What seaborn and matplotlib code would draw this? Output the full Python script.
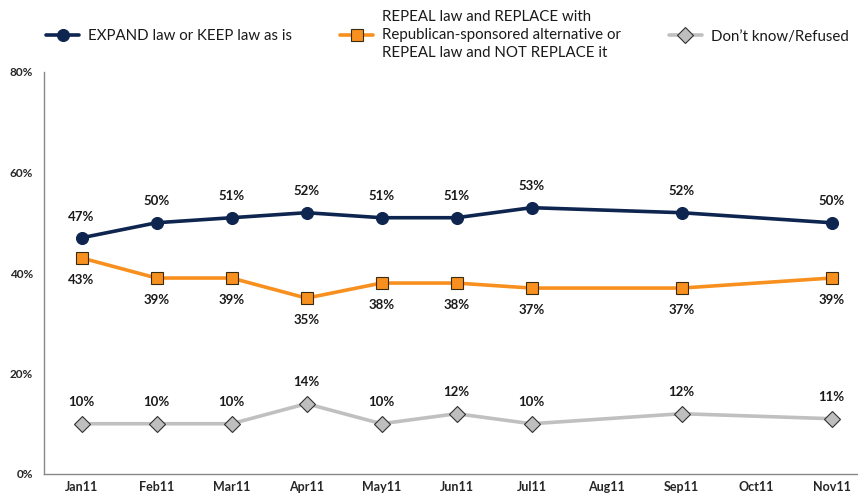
import matplotlib
matplotlib.use("Agg")
import matplotlib.pyplot as plt
from matplotlib.lines import Line2D
from matplotlib.ticker import FixedLocator
import seaborn as sns
import numpy as np
import pandas as pd

# Données
months = ["Jan11", "Feb11", "Mar11", "Apr11", "May11", "Jun11",
          "Jul11", "Aug11", "Sep11", "Oct11", "Nov11"]
expand_keep = [47, 50, 51, 52, 51, 51, 53, np.nan, 52, np.nan, 50]
repeal = [43, 39, 39, 35, 38, 38, 37, np.nan, 37, np.nan, 39]
dont_know = [10, 10, 10, 14, 10, 12, 10, np.nan, 12, np.nan, 11]

labels = ["EXPAND law or KEEP law as is",
          "REPEAL law and REPLACE with\nRepublican-sponsored alternative or\nREPEAL law and NOT REPLACE it",
          "Don\u2019t know/Refused"]

sns.set_style("white")
plt.rcParams["font.family"] = ["Lato", "DejaVu Sans"]

df = pd.DataFrame({"pos": range(len(months)),
                   "expand": expand_keep, "repeal": repeal, "dk": dont_know})

fig = plt.figure(figsize=(8.58, 4.93), dpi=100)
ax = fig.add_axes([44 / 858, 19 / 493, 825 / 858, 402 / 493])

styles = [
    ("expand", "#0E2550", "o", "#0E2550", "#0E2550", 8.6, 2.6, 11, "bottom"),
    ("repeal", "#F7901E", "s", "#F7901E", "#3A2A10", 8.4, 2.6, -11.5, "top"),
    ("dk", "#C0C0C0", "D", "#BEBEBE", "#303030", 8.5, 2.6, 11, "bottom"),
]

handles = []
for col, lc, mk, fc, ec, ms, lw, dy, va in styles:
    sub = df.dropna(subset=[col])
    sns.lineplot(data=sub, x="pos", y=col, ax=ax, color=lc, linewidth=lw,
                 marker=mk, markersize=ms, markerfacecolor=fc,
                 markeredgecolor=ec, markeredgewidth=0.8, legend=False)
    for x, y in zip(sub["pos"], sub[col]):
        ax.annotate(f"{int(y)}%", (x, y), xytext=(0, dy), textcoords="offset points",
                    ha="center", va=va, fontsize=9.5, fontweight="bold", color="#1a1a1a")
    handles.append(Line2D([0], [0], color=lc, linewidth=lw, marker=mk, markersize=ms,
                          markerfacecolor=fc, markeredgecolor=ec, markeredgewidth=0.8))

ax.set_xlim(-0.5, len(months) - 0.5)
ax.set_ylim(0, 80)
ax.set_xticks(range(len(months)))
ax.set_xticklabels(months, fontsize=9, fontweight="bold")
ax.xaxis.set_minor_locator(FixedLocator(np.arange(0.5, len(months) - 0.5, 1)))
ax.tick_params(axis="x", which="major", length=0, pad=5)
ax.tick_params(axis="x", which="minor", direction="in", length=4, color="#888888")
ax.set_yticks([0, 20, 40, 60, 80])
ax.set_yticklabels(["0%", "20%", "40%", "60%", "80%"], fontsize=8.5, fontweight="bold")
ax.tick_params(axis="y", direction="out", length=3, color="#888888", pad=5)
ax.set_xlabel("")
ax.set_ylabel("")
for s in ["top", "right"]:
    ax.spines[s].set_visible(False)
for s in ["left", "bottom"]:
    ax.spines[s].set_color("#888888")
    ax.spines[s].set_linewidth(1)

leg = fig.legend(handles, labels, loc="center left", bbox_to_anchor=(46 / 858, 1 - 35 / 493),
                 ncol=3, frameon=False, fontsize=10.8, handlelength=2.2, columnspacing=3.2,
                 handletextpad=0.6, borderaxespad=0, borderpad=0)
for t in leg.get_texts():
    t.set_linespacing(1.4)
    t.set_color("#1a1a1a")

fig.savefig("out.png", dpi=100)
